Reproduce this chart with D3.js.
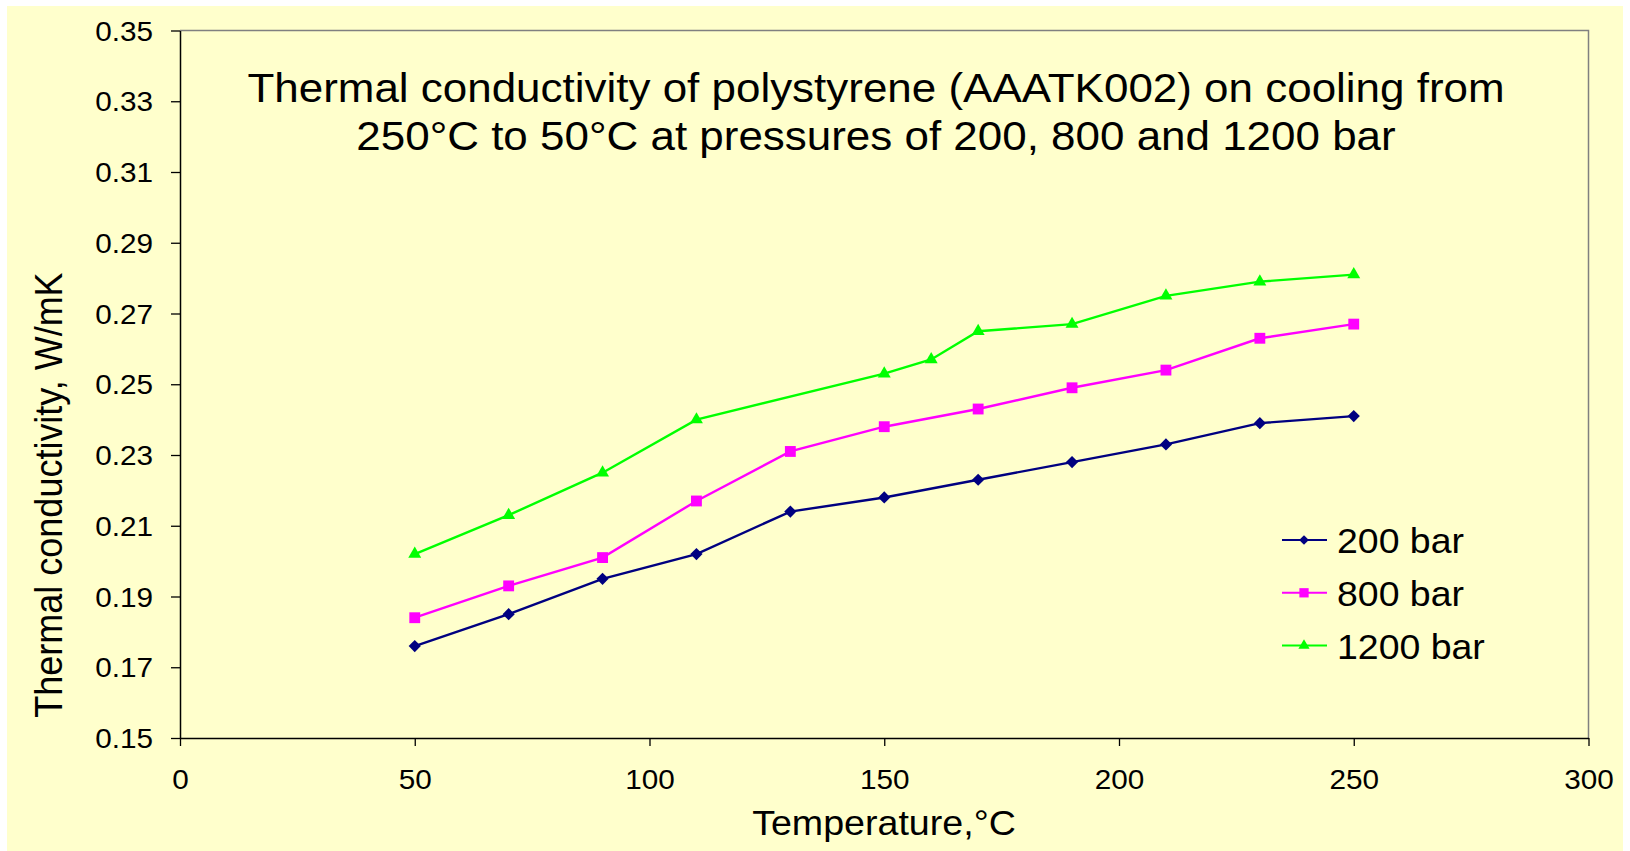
<!DOCTYPE html>
<html>
<head>
<meta charset="utf-8">
<script src="https://cdn.jsdelivr.net/npm/d3@7"></script>
<style>
  html, body { margin: 0; padding: 0; background: #ffffff; }
  svg { display: block; font-family: "Liberation Sans", Arial, sans-serif; }
</style>
</head>
<body>
<svg id="chart" width="1630" height="851"></svg>
<script>
// Thermal conductivity (W/mK) against temperature (°C)
const temps200 = [50, 70, 90, 110, 130, 150, 170, 190, 210, 230, 250];
const k200     = [0.176, 0.185, 0.195, 0.202, 0.214, 0.218, 0.223, 0.228, 0.233, 0.239, 0.241];
const temps800 = [50, 70, 90, 110, 130, 150, 170, 190, 210, 230, 250];
const k800     = [0.184, 0.193, 0.201, 0.217, 0.231, 0.238, 0.243, 0.249, 0.254, 0.263, 0.267];
const temps1200 = [50, 70, 90, 110, 150, 160, 170, 190, 210, 230, 250];
const k1200     = [0.202, 0.213, 0.225, 0.240, 0.253, 0.257, 0.265, 0.267, 0.275, 0.279, 0.281];

const seriesNames = ["200 bar", "800 bar", "1200 bar"];
const xTicks = [0, 50, 100, 150, 200, 250, 300];
const yTicks = [0.15, 0.17, 0.19, 0.21, 0.23, 0.25, 0.27, 0.29, 0.31, 0.33, 0.35];
const titleLines = [
  "Thermal conductivity of polystyrene (AAATK002) on cooling from",
  "250°C to 50°C at pressures of 200, 800 and 1200 bar"
];
const xTitle = "Temperature,°C";
const yTitle = "Thermal conductivity, W/mK";

const series = [
  { name: seriesNames[0], x: temps200,  y: k200,  color: "#000080", symbol: d3.symbolDiamond2, size: 95,  legendSize: 60 },
  { name: seriesNames[1], x: temps800,  y: k800,  color: "#FF00FF", symbol: d3.symbolSquare2,  size: 150, legendSize: 110 },
  { name: seriesNames[2], x: temps1200, y: k1200, color: "#00FF00", symbol: d3.symbolTriangle2, size: 120, legendSize: 90 }
];

const svg = d3.select("#chart");
const SX = 1.1; // horizontal glyph stretch

// Background panel
svg.append("rect").attr("x", 7).attr("y", 6).attr("width", 1616).attr("height", 845).attr("fill", "#FFFFCC");

const plot = { left: 180, right: 1588.5, top: 30.5, bottom: 738 };
const x = d3.scaleLinear().domain([0, 300]).range([plot.left, plot.right]);
const y = d3.scaleLinear().domain([0.15, 0.35]).range([plot.bottom, plot.top]);

// Plot frame: grey top/right edges
svg.append("path")
  .attr("d", `M${plot.left},${plot.top}H${plot.right}V${plot.bottom}`)
  .attr("fill", "none").attr("stroke", "#808080").attr("stroke-width", 1.5);

// Axes
const yAxis = svg.append("g").attr("transform", `translate(${plot.left},0)`)
  .call(d3.axisLeft(y).tickValues(yTicks).tickFormat(d3.format(".2f")).tickSize(9).tickSizeOuter(0));
const xAxis = svg.append("g").attr("transform", `translate(0,${plot.bottom})`)
  .call(d3.axisBottom(x).tickValues(xTicks).tickFormat(d3.format("d")).tickSize(8).tickSizeOuter(0));

[yAxis, xAxis].forEach(g => {
  g.select(".domain").attr("stroke", "#000").attr("stroke-width", 1.5);
  g.selectAll(".tick line").attr("stroke", "#000").attr("stroke-width", 1.3);
  g.selectAll(".tick text").attr("fill", "#000").style("font-size", "27px")
    .style("font-family", "'Liberation Sans', Arial, sans-serif");
});
yAxis.selectAll(".tick text").attr("x", 0).attr("dy", "0.36em")
  .attr("transform", `translate(-27,0) scale(${SX},1)`);
xAxis.selectAll(".tick text").attr("y", 0).attr("dy", 0)
  .attr("transform", `translate(0,51) scale(${SX},1)`);

// Title
titleLines.forEach((t, i) => {
  svg.append("text")
    .attr("transform", `translate(876,${102 + i * 48}) scale(1.072,1)`)
    .attr("text-anchor", "middle").style("font-size", "41px").attr("fill", "#000").text(t);
});

// Axis titles
svg.append("text")
  .attr("transform", `translate(884,835) scale(1.045,1)`)
  .attr("text-anchor", "middle").style("font-size", "36px").attr("fill", "#000").text(xTitle);
svg.append("text")
  .attr("transform", `translate(62,495) rotate(-90) scale(1,1.1)`)
  .attr("text-anchor", "middle").style("font-size", "36px").attr("fill", "#000").text(yTitle);

// Series lines and markers
const line = d3.line().x(d => x(d[0])).y(d => y(d[1]));
series.forEach(s => {
  const pts = s.x.map((t, i) => [t, s.y[i]]);
  svg.append("path").datum(pts).attr("d", line)
    .attr("fill", "none").attr("stroke", s.color).attr("stroke-width", 2.4);
  svg.append("g").selectAll("path").data(pts).join("path")
    .attr("transform", d => `translate(${x(d[0])},${y(d[1])})`)
    .attr("d", d3.symbol().type(s.symbol).size(s.size))
    .attr("fill", s.color);
});

// Legend
const legend = svg.append("g");
series.forEach((s, i) => {
  const cy = 540 + i * 52.8;
  legend.append("line").attr("x1", 1282).attr("x2", 1327).attr("y1", cy).attr("y2", cy)
    .attr("stroke", s.color).attr("stroke-width", 2);
  legend.append("path").attr("transform", `translate(1304,${cy})`)
    .attr("d", d3.symbol().type(s.symbol).size(s.legendSize)).attr("fill", s.color);
  legend.append("text").attr("transform", `translate(1337,${cy + 13}) scale(1.07,1)`)
    .style("font-size", "35px").attr("fill", "#000").text(s.name);
});
</script>
</body>
</html>
